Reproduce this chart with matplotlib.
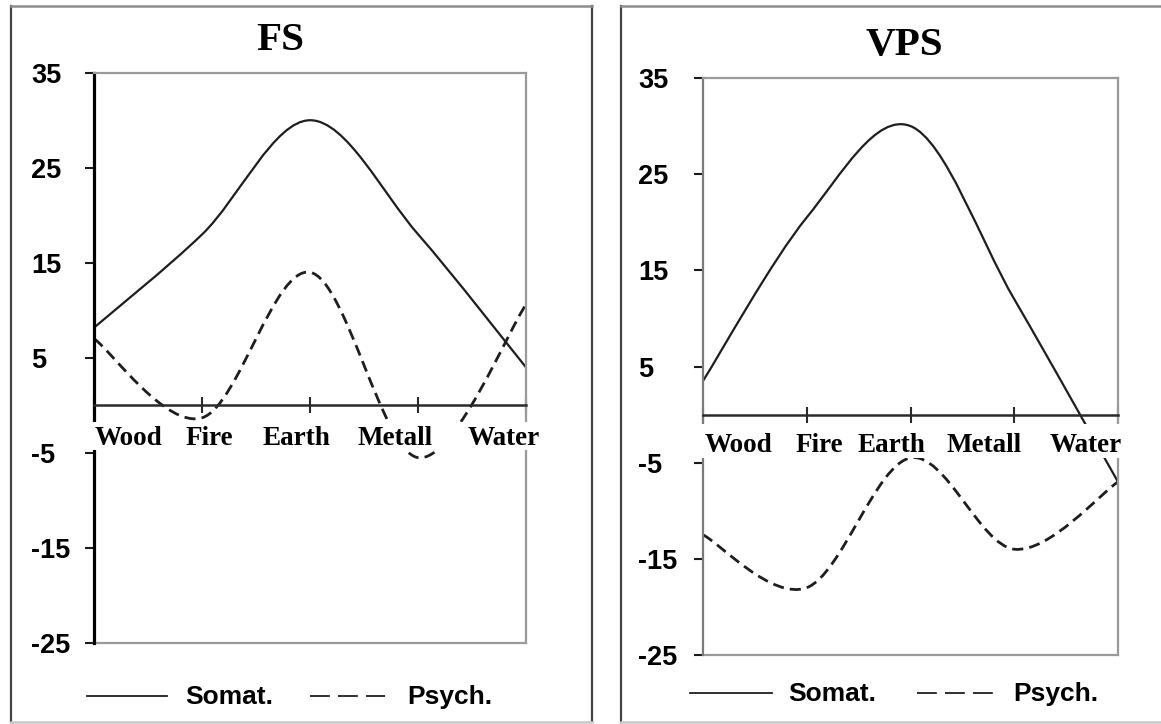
import numpy as np
import matplotlib.pyplot as plt
from matplotlib.path import Path
from matplotlib.patches import PathPatch
from matplotlib.lines import Line2D

elements = ['Wood', 'Fire', 'Earth', 'Metall', 'Water']
series_names = ['Somat.', 'Psych.']
yticks = [-25, -15, -5, 5, 15, 25, 35]

fs_somat = [8.2, 18, 30, 18, 4]
fs_psych = [7, -1.3, 14, -5.5, 10.6]
vps_somat = [3.5, 20.5, 30, 12, -7]
vps_psych = [-12.5, -18, -4.5, -14, -7]

W, H = 1161, 724
SERIF = 'Liberation Serif'
SANS = 'Liberation Sans'


def fx(px):
    return px / W


def fy(py):
    return 1 - py / H


def smooth_path(ys):
    # smoothed line like the spreadsheet one: cubic bezier through every point
    xs = np.arange(len(ys), dtype=float)
    pts = np.column_stack([xs, np.asarray(ys, dtype=float)])
    padded = np.vstack([pts[0], pts, pts[-1]])
    verts = [pts[0]]
    codes = [Path.MOVETO]
    for i in range(len(pts) - 1):
        p0, p1, p2, p3 = padded[i], padded[i + 1], padded[i + 2], padded[i + 3]
        verts += [p1 + (p2 - p0) / 6, p2 - (p3 - p1) / 6, p2]
        codes += [Path.CURVE4] * 3
    return Path(verts, codes)


def frame(fig, x0, y0, x1, y1):
    side = dict(color='#444444', lw=1.6, transform=fig.transFigure)
    fig.add_artist(Line2D([fx(x0), fx(x0)], [fy(y0), fy(y1)], **side))
    fig.add_artist(Line2D([fx(x1), fx(x1)], [fy(y0), fy(y1)], **side))
    fig.add_artist(Line2D([fx(x0), fx(x1)], [fy(y0), fy(y0)], color='#8c8c8c', lw=1.8, transform=fig.transFigure))
    fig.add_artist(Line2D([fx(x0), fx(x1)], [fy(y1), fy(y1)], color='#c8c8c8', lw=1.8, transform=fig.transFigure))


def panel(fig, box, title, title_pos, somat, psych, label_x, label_y, band, axis_col, axis_lw, tick_pad, legend):
    left, top, right, bottom = box
    ax = fig.add_axes([fx(left), fy(bottom), fx(right - left), (bottom - top) / H])
    ax.set_xlim(0, 4)
    ax.set_ylim(-25, 35)

    # boxed plot area in light grey, zero line carries the category ticks
    for s in ['top', 'right']:
        ax.spines[s].set_color('#9a9a9a')
        ax.spines[s].set_linewidth(1.6)
    ax.spines['left'].set_color(axis_col)
    ax.spines['left'].set_linewidth(axis_lw)
    ax.spines['bottom'].set_position(('data', 0))
    ax.spines['bottom'].set_color('#2a2a2a')
    ax.spines['bottom'].set_linewidth(1.8)
    ax.axhline(-25, color='#9a9a9a', lw=1.6, clip_on=False, zorder=2.5)

    ax.set_xticks(range(len(elements)))
    ax.tick_params(axis='x', direction='inout', length=11.5, width=1.5, color='#2a2a2a', labelbottom=False)
    ax.set_yticks(yticks)
    ax.set_yticklabels([str(v) for v in yticks], fontfamily=SANS, fontweight='bold', fontsize=19.5)
    ax.tick_params(axis='y', direction='out', length=6.5, width=1.5, color='#1a1a1a', pad=tick_pad)
    for lbl in ax.get_yticklabels():
        lbl.set_horizontalalignment('left')

    ax.add_patch(PathPatch(smooth_path(somat), fc='none', ec='#1e1e1e', lw=1.6, zorder=2))
    ax.add_patch(PathPatch(smooth_path(psych), fc='none', ec='#1e1e1e', lw=2.0,
                           linestyle=(0, (4.0, 2.2)), zorder=2))

    # white strip behind the element names hides the lines passing under them
    ax.axhspan(band[0], band[1], band[2], band[3], fc='white', ec='none', zorder=4, clip_on=False)
    for name, x in zip(elements, label_x):
        ax.text(x, label_y, name, fontfamily=SERIF, fontweight='bold', fontsize=19.5,
                ha='left', va='baseline', zorder=5)

    fig.text(fx(title_pos[0]), fy(title_pos[1]), title, fontfamily=SERIF, fontweight='bold',
             fontsize=29.5, ha='center', va='center')

    (s0, s1, st, d0, d1, dt, ly) = legend
    fig.add_artist(Line2D([fx(s0), fx(s1)], [fy(ly), fy(ly)], color='#1e1e1e', lw=1.3, transform=fig.transFigure))
    fig.add_artist(Line2D([fx(d0), fx(d1)], [fy(ly), fy(ly)], color='#1e1e1e', lw=1.3,
                          linestyle=(0, (11, 4.5)), transform=fig.transFigure))
    for name, tx in zip(series_names, [st, dt]):
        fig.text(fx(tx), fy(ly + 1), name, fontfamily=SANS, fontweight='bold', fontsize=19,
                 ha='left', va='center')
    return ax


fig = plt.figure(figsize=(W / 100, H / 100), dpi=100)
fig.patch.set_facecolor('white')

frame(fig, 11, 6, 591.5, 722)
frame(fig, 620.5, 6, 1170, 722)

panel(fig, (94.3, 72.7, 526, 643), 'FS', (280, 41), fs_somat, fs_psych,
      [0.006, 0.85, 1.56, 2.44, 3.455], -4.2, (-4.7, -1.8, -0.03, 1.05),
      'black', 2.3, 39, (87, 167, 185, 310, 385, 407, 696))

panel(fig, (703, 78, 1118, 655), 'VPS', (904, 46), vps_somat, vps_psych,
      [0.02, 0.89, 1.49, 2.35, 3.34], -3.9, (-4.55, -0.95, -0.03, 1.03),
      '#7a7a7a', 1.6, 40, (690, 772, 788, 917, 993, 1013, 693))

fig.savefig('out.png', dpi=100)
